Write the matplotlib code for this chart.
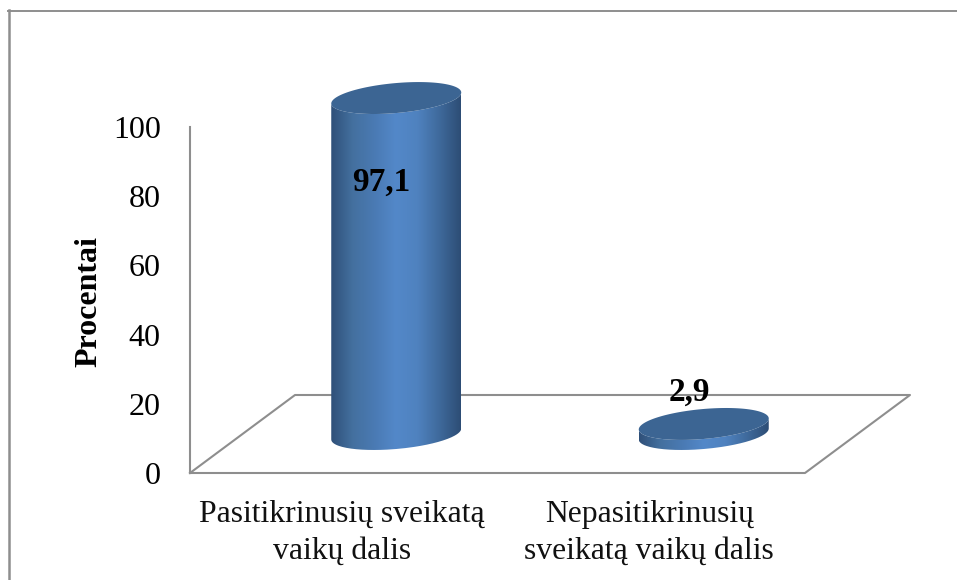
import matplotlib
matplotlib.use('Agg')
import matplotlib.pyplot as plt
import numpy as np
from matplotlib.colors import LinearSegmentedColormap
from matplotlib.path import Path
from matplotlib.patches import PathPatch
from matplotlib.transforms import IdentityTransform

categories = ['Pasitikrinusių sveikatą\nvaikų dalis', 'Nepasitikrinusių\nsveikatą vaikų dalis']
values = [97.1, 2.9]
value_labels = ['97,1', '2,9']
yticks = [0, 20, 40, 60, 80, 100]
ylabel = 'Procentai'

W, H = 957, 580
plt.rcParams['font.family'] = ['Liberation Serif', 'DejaVu Serif']

fig = plt.figure(figsize=(W / 100, H / 100), dpi=100)
ax = fig.add_axes([190 / W, 1 - 473 / H, 615 / W, 346 / H])
ax.set_xlim(-0.5, 1.5)
ax.set_ylim(0, 100)
ax.patch.set_alpha(0)
for s in ['top', 'right', 'bottom']:
    ax.spines[s].set_visible(False)
ax.spines['left'].set_color('#8e8e8e')
ax.spines['left'].set_linewidth(1.5)
ax.set_xticks([])
ax.set_yticks(yticks)
ax.tick_params(axis='y', length=0, pad=21, labelsize=23)
ax.set_ylabel(ylabel, fontsize=23, fontweight='bold')
ax.yaxis.set_label_coords(-0.14, 0.496)

DEPTH_X, DEPTH_Y = 105, 78
HALF_W = 65
ident = IdentityTransform()


def px(x, y, depth=0.0):
    # display position of a data point, pushed back into the 3d floor
    p = ax.transData.transform((x, y))
    return p[0] + DEPTH_X * depth, p[1] + DEPTH_Y * depth


# floor
x0, x1 = ax.get_xlim()
corners = [px(x0, 0), px(x1, 0), px(x1, 0, 1), px(x0, 0, 1), px(x0, 0)]
ax.plot(*zip(*corners), transform=ident, color='#8e8e8e', lw=1.5, clip_on=False, zorder=1)

# outer frame of the picture
fig.add_artist(plt.Line2D([8.5 / W, 8.5 / W], [0, 1 - 10 / H], color='#8e8e8e', lw=1.8))
fig.add_artist(plt.Line2D([8 / W, 1], [1 - 10.8 / H, 1 - 10.8 / H], color='#8e8e8e', lw=1.4))

side_cmap = LinearSegmentedColormap.from_list(
    'side', ['#2f5079', '#44709f', '#4a7ab3', '#5388c9', '#4f82bf', '#3f6a9c', '#2d4d75'])
t = np.linspace(0, 2 * np.pi, 181)


def ellipse(cx, cy):
    return cx + HALF_W * np.cos(t), cy + 15 * np.sin(t) + 5.5 * np.cos(t)


for i, v in enumerate(values):
    bx, by = px(i, 0, 0.5)
    tx, ty = px(i, v, 0.5)
    ex, ey_b = ellipse(bx, by)
    _, ey_t = ellipse(tx, ty)
    # outline of the side: lower half of the base, then back along the top
    idx = np.arange(90, 181)
    side_x = np.r_[ex[idx], ex[idx][::-1]]
    side_y = np.r_[ey_b[idx], ey_t[idx][::-1]]
    clip = PathPatch(Path(np.c_[side_x, side_y]), transform=ident, fc='none', ec='none')
    ax.add_patch(clip)
    im = ax.imshow(np.linspace(0, 1, 256)[None, :], cmap=side_cmap, aspect='auto',
                   extent=(bx - HALF_W, bx + HALF_W, by - 22, ty + 22),
                   transform=ident, zorder=3, interpolation='bilinear')
    im.set_clip_box(fig.bbox)
    im.set_clip_path(clip)
    ax.fill(ex, ey_t, transform=ident, color='#3c6593', lw=0, zorder=4, clip_on=False)

ax.set_xlim(-0.5, 1.5)
ax.set_ylim(0, 100)
ax.set_aspect('auto')

# labels are placed relative to the bar tops
lab_off = [(-15, -84), (-14, 32)]
for i, v in enumerate(values):
    tx, ty = px(i, v, 0.5)
    ax.text(tx + lab_off[i][0], ty + lab_off[i][1], value_labels[i], transform=ident,
            ha='center', va='center', fontsize=24, fontweight='bold', color='black', zorder=6)
    fx, fy = px(i, 0)
    ax.text(fx - 2, fy - 27, categories[i], transform=ident, ha='center', va='top',
            fontsize=22.8, color='#111111', linespacing=1.36, zorder=6)

fig.savefig('out.png', dpi=100)
